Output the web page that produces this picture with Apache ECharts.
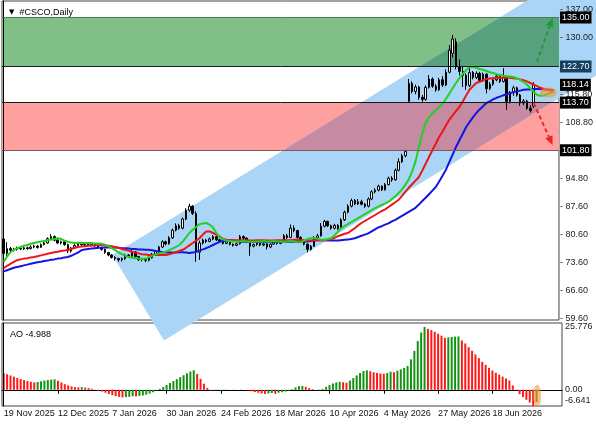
<!DOCTYPE html>
<html>
<head>
<meta charset="utf-8">
<script src="https://cdn.jsdelivr.net/npm/echarts@6/dist/echarts.min.js"></script>
<style>
html,body{margin:0;padding:0;background:#fff;}
#chart{width:596px;height:425px;}
</style>
</head>
<body>
<div id="chart"></div>
<script>
// daily bars, [open, close, low, high]
const candles = [
  [79.6,76.0,74.0,80.3],[76.0,77.2,75.4,78.8],[77.2,76.8,76.3,77.6],[76.8,77.0,76.5,77.4],[77.0,77.3,76.7,77.7],
  [77.3,77.1,76.8,77.6],[77.1,77.4,76.9,77.8],[77.4,77.2,76.9,77.7],[77.2,77.6,77.0,78.0],[77.6,77.8,77.3,78.2],
  [77.8,77.5,77.2,78.1],[77.5,78.2,77.4,78.5],[78.2,78.6,78.0,79.0],[78.6,79.7,78.4,80.0],[79.7,80.2,79.4,80.8],
  [80.2,79.3,79.0,80.5],[79.3,78.6,78.3,79.7],[78.6,78.9,78.2,79.2],[78.9,78.2,77.9,79.1],[78.2,76.6,76.1,78.4],
  [76.6,77.3,76.2,77.6],[77.3,78.0,77.1,78.3],[78.0,78.6,77.8,78.9],[78.6,78.2,77.9,78.8],[78.2,78.4,77.9,78.7],
  [78.4,78.0,77.8,78.6],[78.0,78.3,77.8,78.6],[78.3,77.9,77.6,78.5],[77.9,77.4,77.1,78.1],[77.4,77.0,76.7,77.7],
  [77.0,76.2,75.9,77.2],[76.2,75.6,75.3,76.4],[75.6,75.0,74.7,75.8],[75.0,74.7,74.2,75.3],[74.7,74.4,73.9,74.9],
  [74.4,74.7,74.0,75.0],[74.7,75.6,74.4,75.9],[75.6,75.3,75.0,75.8],[75.3,76.4,75.1,76.8],[76.4,75.2,75.0,76.6],
  [75.2,74.4,74.1,75.4],[74.4,74.6,74.0,74.9],[74.6,74.3,73.8,74.8],[74.3,74.9,74.0,75.2],[74.9,75.8,74.7,76.1],
  [75.8,76.5,75.5,76.8],[76.5,77.6,76.2,77.9],[77.6,78.9,77.4,79.3],[78.9,78.4,78.0,79.2],[78.4,79.9,78.2,80.3],
  [79.9,81.8,79.6,82.2],[81.8,82.9,81.5,83.5],[82.9,82.3,81.9,83.4],[82.3,84.6,82.0,85.0],[84.6,86.8,84.3,87.3],
  [86.8,87.8,86.4,88.4],[87.8,86.0,85.6,88.1],[86.0,76.3,73.9,86.5],[76.3,78.6,74.4,79.2],[78.6,79.3,78.2,79.7],
  [79.3,79.0,78.6,79.6],[79.0,79.6,78.8,80.0],[79.6,80.2,79.3,80.6],[80.2,79.4,79.1,80.4],[79.4,79.0,78.7,79.6],
  [79.0,78.5,78.2,79.2],[78.5,78.9,78.3,79.1],[78.9,78.3,78.0,79.0],[78.3,78.0,77.7,78.5],[78.0,78.4,77.8,78.7],
  [78.4,80.2,78.2,80.6],[80.2,79.8,79.4,80.5],[79.8,78.9,78.6,80.0],[78.9,77.8,75.4,79.1],[77.8,78.2,77.5,78.5],
  [78.2,78.6,77.9,78.8],[78.6,78.1,77.8,78.8],[78.1,78.4,77.8,78.7],[78.4,77.6,77.0,78.6],[77.6,78.3,77.3,78.5],
  [78.3,78.9,78.1,79.2],[78.9,78.5,78.2,79.1],[78.5,79.0,78.3,79.3],[79.0,80.4,78.8,80.8],[80.4,80.0,79.6,80.9],
  [80.0,82.3,79.8,83.2],[82.3,81.7,81.3,83.0],[81.7,80.0,79.7,81.9],[80.0,79.3,79.0,80.3],[79.3,78.3,78.0,79.5],
  [78.3,77.0,76.3,78.5],[77.0,77.8,76.7,78.1],[77.8,79.9,77.6,80.3],[79.9,80.4,79.6,80.9],[80.4,82.8,80.2,83.6],
  [82.8,84.0,82.5,84.4],[84.0,82.9,82.6,84.2],[82.9,82.3,81.9,83.2],[82.3,83.0,82.0,83.4],[83.0,82.2,81.9,83.3],
  [82.2,84.4,82.0,84.8],[84.4,86.3,84.1,86.7],[86.3,87.8,86.0,88.3],[87.8,89.2,87.5,89.7],[89.2,88.4,88.1,89.6],
  [88.4,88.9,88.1,89.6],[88.9,88.3,88.0,89.4],[88.3,87.8,87.4,88.6],[87.8,89.6,87.5,90.0],[89.6,91.4,89.3,91.8],
  [91.4,91.8,91.0,92.3],[91.8,92.8,91.5,93.2],[92.8,91.9,91.6,93.0],[91.9,93.2,91.7,93.6],[93.2,94.8,93.0,95.2],
  [94.8,94.4,93.9,95.3],[94.4,96.8,94.2,97.2],[96.8,98.9,96.5,99.8],[98.9,100.4,98.6,100.9],[100.4,101.5,100.0,101.9],
  [114.0,118.5,113.8,119.6],[118.5,116.5,116.0,119.0],[116.5,117.6,115.8,118.2],[117.6,115.0,114.4,117.9],[115.0,114.5,113.9,115.6],
  [114.5,117.5,114.2,118.0],[117.5,119.6,117.2,120.6],[119.6,117.8,117.4,120.0],[117.8,116.9,116.4,118.3],[116.9,119.4,116.6,119.9],
  [119.4,118.1,117.6,120.3],[118.1,121.3,117.8,122.0],[121.3,126.8,121.0,128.1],[126.0,129.6,125.0,130.6],[128.9,122.6,122.0,129.8],
  [122.6,121.5,120.5,124.5],[121.5,120.5,117.6,122.8],[120.5,118.0,116.9,121.0],[118.0,121.2,117.6,122.3],[121.2,120.0,119.5,121.6],
  [120.0,121.0,119.6,121.5],[121.0,119.2,118.8,121.4],[119.2,120.8,118.9,121.2],[120.8,117.2,116.0,121.0],[117.2,118.3,116.8,118.8],
  [118.3,119.4,117.9,119.8],[119.4,120.3,119.0,120.7],[120.3,119.0,118.6,120.6],[119.0,120.0,118.7,122.3],[120.0,114.0,111.9,120.2],
  [114.0,116.2,113.5,116.6],[116.2,117.4,115.4,117.9],[117.4,115.6,115.2,117.7],[115.6,113.6,112.9,115.9],[113.6,114.1,113.1,114.6],
  [114.1,112.3,111.9,114.4],[112.3,111.7,111.2,113.0],[112.8,118.14,112.4,118.8]
];

// alligator lines (drawn shifted forward, so they run past the last bar)
const lips = [
  73.9,75.2,76.3,76.9,77.3,77.6,77.9,78.1,78.4,78.6, 78.8,79.0,79.1,79.3,79.4,79.6,79.8,79.6,79.2,78.9,
  78.7,78.6,78.6,78.6,78.6,78.6,78.6,78.5,78.5,78.4, 78.2,77.8,77.3,76.8,76.3,75.8,75.4,75.1,74.9,74.8,
  74.7,74.6,74.7,75.0,75.4,75.7,76.0,76.2,76.4,76.8, 77.2,77.6,78.1,78.9,80.0,81.1,81.9,82.6,83.3,83.5,
  83.6,83.2,82.5,81.1,80.0,79.5,79.2,79.1,79.0,79.0, 79.0,79.1,79.0,78.9,78.9,79.0,79.0,79.1,79.0,79.0,
  79.1,79.0,79.0,78.9,79.0,79.1,79.0,78.8,78.8,79.2, 79.6,79.8,79.9,79.7,79.4,79.4,79.6,79.8,80.5,81.4,
  82.3,82.8,83.3,83.8,84.3,84.8,85.3,85.8,86.3,86.8, 87.3,87.7,88.1,88.5,88.9,89.6,90.3,91.1,92.0,93.2,
  94.5,96.5,99.0,102.5,106.0,108.6,110.0,111.0,111.8,112.6, 113.4,114.6,115.9,117.3,118.6,119.8,120.9,121.8,122.6,122.6,
  122.4,122.1,121.9,121.6,121.3,121.1,120.8,120.6,120.4,120.3, 120.2,120.1,119.8,119.4,118.9,118.2,117.3,116.4,115.6,115.4,
  115.5,115.8,116.2,116.4
];
const teeth = [
  72.3,72.9,73.4,73.9,74.3,74.5,74.7,74.8,75.0,75.1, 75.3,75.5,75.7,75.9,76.1,76.3,76.4,76.6,76.7,76.9,
  77.1,77.4,77.6,77.7,77.8,77.9,78.0,78.0,78.1,78.1, 78.0,77.9,77.8,77.6,77.4,77.1,76.9,76.7,76.4,76.2,
  76.0,75.8,75.7,75.6,75.6,75.6,75.6,75.6,75.6,75.8, 76.0,76.3,76.6,76.9,77.4,78.0,78.6,79.2,79.8,80.7,
  81.5,81.5,81.1,80.7,80.2,79.6,79.4,79.3,79.3,79.3, 79.3,79.3,79.3,79.2,79.2,79.3,79.3,79.3,79.2,79.2,
  79.2,79.3,79.3,79.3,79.3,79.3,79.4,79.4,79.3,79.2, 79.2,79.2,79.3,79.3,79.3,79.3,79.4,79.6,79.9,80.3,
  80.6,80.9,81.1,81.7,82.3,83.0,83.6,84.1,84.6,85.1, 85.6,86.1,86.6,87.0,87.6,88.2,88.8,89.4,90.4,91.4,
  92.4,93.3,94.2,95.1,96.7,98.4,100.1,101.8,103.4,105.1, 106.5,108.0,109.4,110.5,111.6,112.6,114.0,115.5,116.9,117.8,
  118.6,118.9,119.3,119.6,119.7,119.8,119.9,119.9,119.9,119.9, 119.9,119.8,119.7,119.5,119.3,119.0,118.6,118.2,117.8,117.4,
  117.1,116.9,116.7,116.6
];
const jaw = [
  71.5,71.8,72.1,72.4,72.6,72.8,73.0,73.2,73.4,73.6, 73.8,73.9,74.1,74.2,74.4,74.5,74.7,74.8,75.0,75.1,
  75.4,75.8,76.2,76.8,77.0,77.1,77.2,77.3,77.4,77.4, 77.5,77.5,77.5,77.5,77.4,77.3,77.3,77.2,77.1,77.1,
  77.0,77.0,76.9,76.9,76.8,76.6,76.5,76.3,76.2,76.2, 76.2,76.2,76.3,76.3,76.2,76.1,76.2,76.4,76.7,77.0,
  77.3,77.7,78.1,78.5,78.9,79.1,79.2,79.3,79.2,79.1, 78.9,78.9,78.9,78.9,78.9,78.9,78.9,78.9,78.9,78.9,
  78.9,78.9,78.9,78.9,78.9,78.9,78.9,79.0,79.0,79.0, 79.0,79.1,79.2,79.3,79.3,79.3,79.2,79.2,79.2,79.2,
  79.3,79.4,79.5,79.6,79.8,80.1,80.4,80.7,81.0,81.5, 82.0,82.5,82.8,83.2,83.5,84.0,84.4,84.9,85.4,85.9,
  86.4,86.9,87.4,88.2,89.1,89.9,90.8,91.7,92.6,94.0, 95.4,96.9,98.8,100.7,102.6,104.3,105.9,107.6,108.8,110.0,
  111.1,112.0,112.8,113.6,114.0,114.5,114.9,115.2,115.5,115.8, 116.1,116.3,116.5,116.7,116.9,117.0,117.0,117.1,117.1,117.1,
  117.0,117.0,116.9,116.8
];

// Awesome Oscillator
const ao = [
  6.8,6.4,5.9,5.4,4.9,4.4,4.0,3.6,3.3,3.0, 3.2,3.5,3.8,4.0,4.2,4.3,3.7,3.0,2.3,1.8,
  1.4,1.1,1.0,1.1,0.9,0.7,0.4,0.1,-0.3,-0.7, -1.2,-1.7,-2.2,-2.6,-2.9,-3.1,-3.0,-2.9,-2.6,-2.7,
  -2.5,-2.3,-2.0,-1.6,-1.0,-0.3,0.4,1.2,2.0,2.8, 3.6,4.4,5.2,6.0,6.8,7.5,8.0,6.5,4.5,2.5,
  0.8,-0.3,-0.2,-0.1,0.0,0.1,0.1,0.0,-0.1,0.0, 0.1,0.0,-0.3,-0.6,-0.9,-1.2,-1.5,-1.7,-1.5,-1.3,
  -1.4,-1.2,-1.0,-0.7,-0.3,0.3,1.0,1.5,1.6,1.2, 0.7,0.3,0.0,-0.1,0.4,1.2,2.0,2.6,3.0,3.3,
  3.1,2.9,3.8,4.8,5.9,6.9,7.7,8.0,7.6,7.2, 6.9,6.7,6.6,6.9,7.4,7.2,7.8,8.4,9.0,9.8,
  12.5,16.0,20.0,23.5,25.776,25.0,24.5,23.8,23.0,22.2, 21.3,21.5,21.7,21.8,21.9,20.2,19.0,17.5,16.0,14.5,
  13.0,11.5,10.2,9.0,7.9,7.0,6.2,5.4,4.6,3.8, 1.8,-0.2,-1.8,-3.0,-4.1,-5.2,-6.641,-4.988
];

const priceTicks = [59.6, 66.6, 73.6, 80.6, 87.6, 94.8, 108.8, 115.8, 130.0, 137.0];
const aoTicks = [25.776, 0, -6.641];

// price zones, levels and the drawn channel (bar index, price)
const greenZone = [122.7, 135.0];
const redZone = [101.8, 113.7];
const levelPrices = [135.0, 122.7, 118.14, 113.7, 101.8];
const channelTop = [[32.2, 75.6], [200, 162.45]];
const channelBottom = [[47.5, 54.25], [200, 133.2]];
const upArrow = [[158, 123.9], [162.6, 134.9]];
const downArrow = [[157, 113.6], [162.6, 103.1]];
const lineMark = [161.4, 116.2];
const aoMark = [157.2, -2.4];

const holidays = ['2025-11-27','2025-12-25','2026-01-01','2026-01-19','2026-02-16','2026-04-03','2026-05-25','2026-06-19'];
const months = ['Jan','Feb','Mar','Apr','May','Jun','Jul','Aug','Sep','Oct','Nov','Dec'];
const slots = 165;

const dates = [];
let d = new Date(Date.UTC(2025, 10, 19));
while (dates.length < candles.length) {
  const wd = d.getUTCDay();
  const iso = d.toISOString().slice(0, 10);
  if (wd !== 0 && wd !== 6 && holidays.indexOf(iso) < 0) {
    dates.push(d.getUTCDate() + ' ' + months[d.getUTCMonth()] + ' ' + d.getUTCFullYear());
  }
  d.setUTCDate(d.getUTCDate() + 1);
}
const categories = dates.slice();
for (let k = dates.length; k < slots; k++) categories.push('f' + k);
const labelAt = (idx) => idx % 16 === 0 && idx < dates.length;

const font = 'Liberation Sans';
const chart = echarts.init(document.getElementById('chart'), null, { renderer: 'canvas' });

// clip a polygon to an axis-aligned box (Sutherland-Hodgman)
function clipBox(pts, x0, y0, x1, y1) {
  const sides = [
    [p => p[0] >= x0, (a, b) => [x0, a[1] + (x0 - a[0]) / (b[0] - a[0]) * (b[1] - a[1])]],
    [p => p[0] <= x1, (a, b) => [x1, a[1] + (x1 - a[0]) / (b[0] - a[0]) * (b[1] - a[1])]],
    [p => p[1] >= y0, (a, b) => [a[0] + (y0 - a[1]) / (b[1] - a[1]) * (b[0] - a[0]), y0]],
    [p => p[1] <= y1, (a, b) => [a[0] + (y1 - a[1]) / (b[1] - a[1]) * (b[0] - a[0]), y1]]
  ];
  let out = pts;
  for (const [ins, cut] of sides) {
    const src = out;
    out = [];
    for (let k = 0; k < src.length; k++) {
      const cur = src[k], prev = src[(k + src.length - 1) % src.length];
      if (ins(cur)) {
        if (!ins(prev)) out.push(cut(prev, cur));
        out.push(cur);
      } else if (ins(prev)) {
        out.push(cut(prev, cur));
      }
    }
    if (!out.length) break;
  }
  return out;
}

function overlay(params, api) {
  const cs = params.coordSys;
  const p = (v) => api.coord(v);
  const chan = [p(channelTop[0]), p(channelTop[1]), p(channelBottom[1]), p(channelBottom[0])];
  const kids = [];
  const band = (zone, fill, mix) => {
    const yTop = p([0, zone[1]])[1], yBot = p([0, zone[0]])[1];
    kids.push({ type: 'rect', shape: { x: cs.x, y: yTop, width: cs.width, height: yBot - yTop }, style: { fill: fill } });
    return () => {
      const part = clipBox(chan, cs.x, yTop, cs.x + cs.width, yBot);
      if (part.length > 2) kids.push({ type: 'polygon', shape: { points: part }, style: { fill: mix } });
    };
  };
  const g = band(greenZone, '#80bf86', '#58a17f');
  const r = band(redZone, '#ffa0a0', '#c68aa3');
  kids.push({ type: 'polygon', shape: { points: chan }, style: { fill: '#aad5f6' } });
  g();
  r();
  return { type: 'group', children: kids };
}

function arrow(api, seg, color) {
  const a = api.coord(seg[0]), b = api.coord(seg[1]);
  const dx = b[0] - a[0], dy = b[1] - a[1];
  const len = Math.sqrt(dx * dx + dy * dy), ux = dx / len, uy = dy / len;
  const hl = 9, hw = 4;
  const bx = b[0] - ux * hl, by = b[1] - uy * hl;
  return [
    { type: 'line', shape: { x1: a[0], y1: a[1], x2: bx, y2: by },
      style: { stroke: color, lineWidth: 2, lineDash: [4, 3] } },
    { type: 'polygon', shape: { points: [b, [bx - uy * hw, by + ux * hw], [bx + uy * hw, by - ux * hw]] },
      style: { fill: color } }
  ];
}

function blob(api, c, rx, ry) {
  const q = api.coord(c);
  return { type: 'circle', x: q[0], y: q[1], scaleX: rx, scaleY: ry, shape: { cx: 0, cy: 0, r: 1 },
    style: { fill: 'rgba(245,150,60,0.6)' } };
}

const option = {
  animation: false,
  backgroundColor: '#fff',
  title: [
    { text: '{t|▼}  #CSCO,Daily', left: 4, top: 3,
      textStyle: { fontSize: 9, fontWeight: 'normal', color: '#000', fontFamily: font,
        rich: { t: { fontSize: 7, fontFamily: 'DejaVu Sans', color: '#000' } } } },
    { text: 'AO ' + ao[ao.length - 1].toFixed(3), left: 5, top: 325,
      textStyle: { fontSize: 9, fontWeight: 'normal', color: '#000', fontFamily: font } }
  ],
  grid: [
    { left: 2, right: 34, top: 1, height: 319, show: true, borderColor: '#444', borderWidth: 1 },
    { left: 2, right: 34, top: 323, height: 83, show: true, borderColor: '#444', borderWidth: 1 }
  ],
  xAxis: [
    { type: 'category', gridIndex: 0, data: categories, show: false },
    { type: 'category', gridIndex: 1, data: categories,
      axisLine: { show: true, lineStyle: { color: '#000' } },
      axisTick: { show: true, alignWithLabel: true, interval: labelAt, length: 4, lineStyle: { color: '#000' } },
      axisLabel: { interval: labelAt, align: 'left', margin: 3, fontSize: 9, color: '#111', fontFamily: font },
      splitLine: { show: false } },
    { type: 'value', gridIndex: 0, min: -0.5, max: slots - 0.5, show: false },
    { type: 'value', gridIndex: 1, min: -0.5, max: slots - 0.5, show: false }
  ],
  yAxis: [
    { type: 'value', gridIndex: 0, position: 'right', min: 59.35, max: 139.1, z: 4,
      axisLine: { show: true, lineStyle: { color: '#000' } },
      axisTick: { show: false },
      axisLabel: { customValues: priceTicks, formatter: (v) => '- ' + v.toFixed(2), margin: 1,
        fontSize: 9, color: '#222', fontFamily: font },
      splitLine: { show: false } },
    { type: 'value', gridIndex: 1, position: 'right', min: -6.641, max: 27.4, z: 4,
      axisLine: { show: true, lineStyle: { color: '#000' } },
      axisTick: { show: false },
      axisLabel: { customValues: aoTicks, margin: 3, fontSize: 9, color: '#222', fontFamily: font,
        formatter: (v) => v === 0 ? '0.00' : (v < 0 ? '{lo|' + v.toFixed(3) + '}' : v.toFixed(3)),
        rich: { lo: { fontSize: 9, color: '#222', fontFamily: font, padding: [0, 0, 10, 0] } } },
      splitLine: { show: false } }
  ],
  series: [
    { type: 'custom', xAxisIndex: 2, yAxisIndex: 0, data: [[0, 100]], z: 1, silent: true, clip: false,
      renderItem: overlay },
    { type: 'candlestick', xAxisIndex: 0, yAxisIndex: 0, data: candles, barWidth: 2, z: 3,
      itemStyle: { color: '#fff', color0: '#000', borderColor: '#000', borderColor0: '#000', borderWidth: 1 } },
    { type: 'line', xAxisIndex: 0, yAxisIndex: 0, data: jaw, showSymbol: false, z: 4,
      lineStyle: { color: '#1515e0', width: 2 } },
    { type: 'line', xAxisIndex: 0, yAxisIndex: 0, data: teeth, showSymbol: false, z: 4,
      lineStyle: { color: '#ee1515', width: 2 } },
    { type: 'line', xAxisIndex: 0, yAxisIndex: 0, data: lips, showSymbol: false, z: 4,
      lineStyle: { color: '#22d022', width: 2 } },
    { type: 'bar', xAxisIndex: 1, yAxisIndex: 1, barWidth: 2, z: 3,
      data: ao.map((v, i) => ({ value: v,
        itemStyle: { color: i > 0 && v > ao[i - 1] ? '#139313' : '#ff1a1a' } })) },
    { type: 'custom', xAxisIndex: 2, yAxisIndex: 0, data: [[0, 100]], z: 6, silent: true, clip: false,
      renderItem: (params, api) => ({ type: 'group', children: [
        blob(api, lineMark, 8.5, 5) ]
        .concat(arrow(api, upArrow, '#1f9a3a'))
        .concat(arrow(api, downArrow, '#e8262a')) }) },
    { type: 'custom', xAxisIndex: 3, yAxisIndex: 1, data: [[0, 0]], z: 6, silent: true, clip: false,
      renderItem: (params, api) => blob(api, aoMark, 4, 11) },
    { type: 'line', xAxisIndex: 0, yAxisIndex: 0, data: [], z: 8, silent: true,
      markLine: { symbol: ['none', 'none'], silent: true, animation: false,
        data: levelPrices.map((v, k) => ({
          yAxis: v,
          lineStyle: { color: ['#4e7d55', '#1a1a1a', 'rgba(0,0,0,0)', '#1a1a1a', '#7a5a5a'][k], width: 1, type: 'solid' },
          label: { show: true, position: 'end', distance: 1, formatter: v.toFixed(2), color: '#fff',
            backgroundColor: k === 1 ? '#15405f' : '#000', padding: [2, 2, 1, 2], fontSize: 9, fontFamily: font }
        })) } }
  ]
};
chart.setOption(option);
</script>
</body>
</html>
